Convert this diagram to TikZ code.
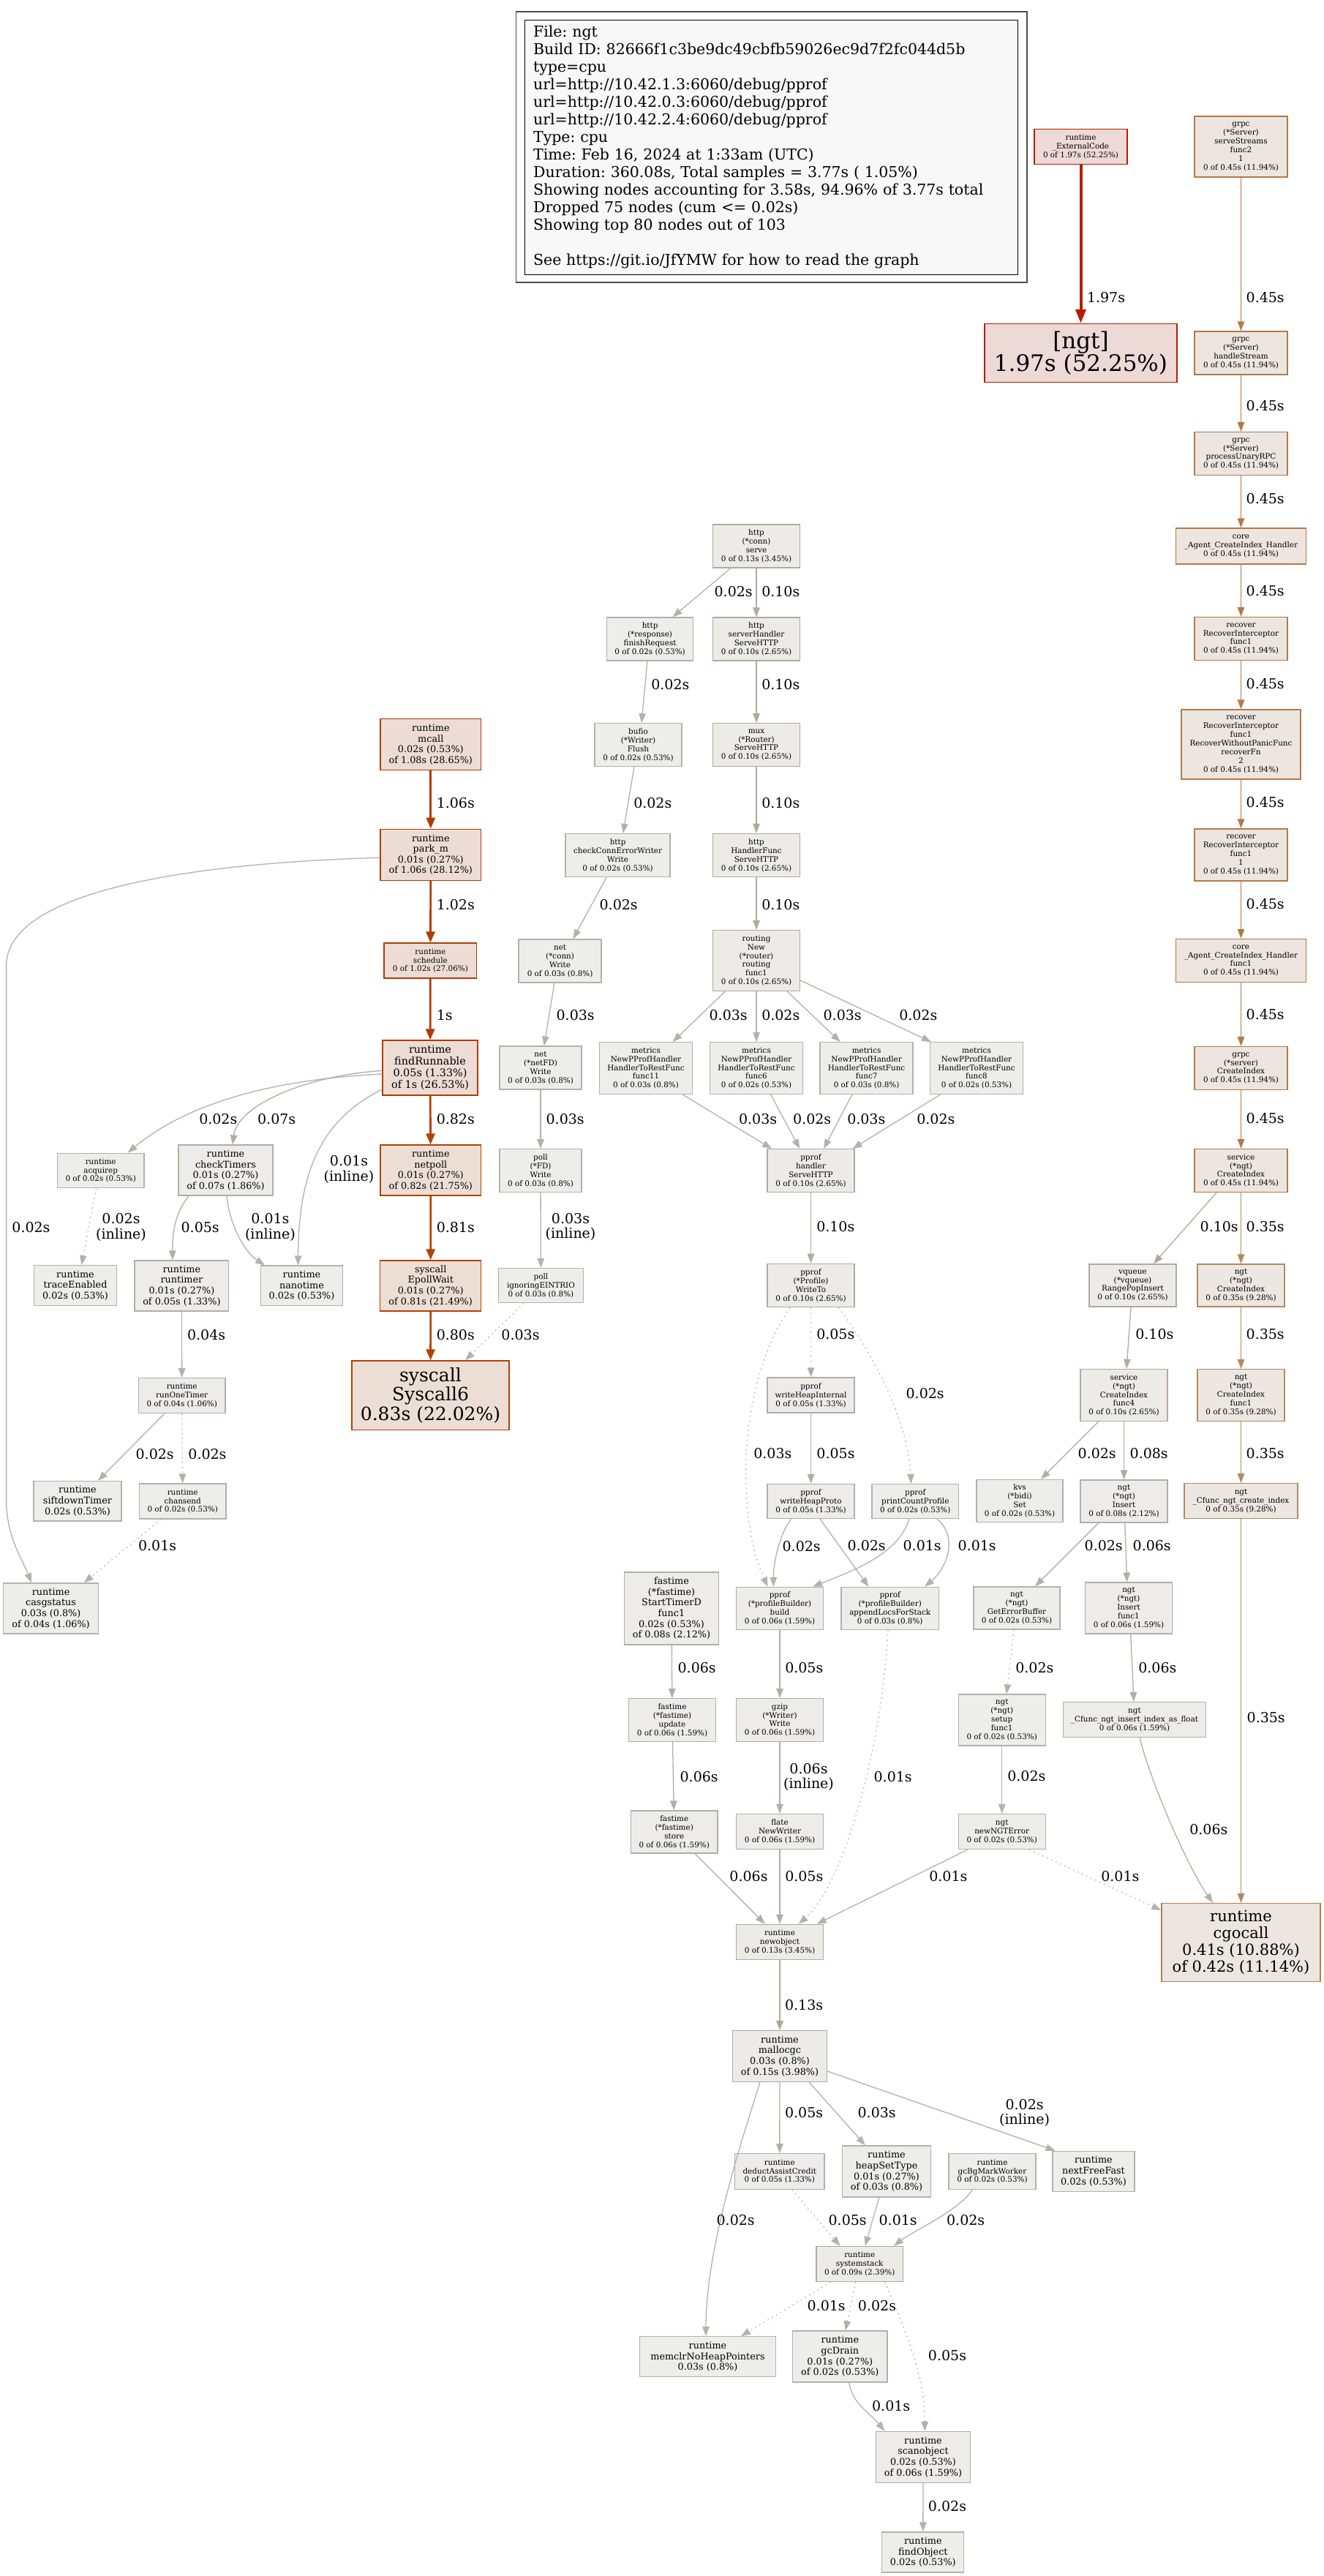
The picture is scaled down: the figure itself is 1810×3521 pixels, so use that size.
\documentclass[tikz,border=0pt]{standalone}
\usepackage{fontspec}
\setmainfont{DejaVu Serif}
\usepackage{tikz}
\usetikzlibrary{arrows.meta, calc, positioning}
\frenchspacing

% node colours (border / fill)
\definecolor{fgRed}{HTML}{B21F00}\definecolor{bgRed}{HTML}{EDD9D5}
\definecolor{fgHot}{HTML}{B23A00}\definecolor{bgHot}{HTML}{EDDCD5}
\definecolor{fgHotB}{HTML}{B24200}\definecolor{bgHotB}{HTML}{EDDED5}
\definecolor{fgGrpc}{HTML}{B27A47}\definecolor{bgGrpc}{HTML}{EDE5DF}
\definecolor{fgNgt}{HTML}{B28A5F}\definecolor{bgNgt}{HTML}{EDE7E2}
\definecolor{fgCgo}{HTML}{B27F4F}\definecolor{bgCgo}{HTML}{EDE6E0}
\definecolor{fgTan}{HTML}{B2AA9A}\definecolor{bgTan}{HTML}{EDEBE8}
\definecolor{fgMid}{HTML}{B2AEA4}\definecolor{bgMid}{HTML}{EDECEA}
\definecolor{fgGrey}{HTML}{B2B1AD}\definecolor{bgGrey}{HTML}{EDEDEC}
\definecolor{legendFill}{HTML}{F8F8F8}
% edge colours
\definecolor{eRed}{HTML}{B21F00}
\definecolor{eHot}{HTML}{B23A00}
\definecolor{eHotB}{HTML}{B24200}
\definecolor{eGrpc}{HTML}{B27A47}
\definecolor{eNgt}{HTML}{B28A5F}
\definecolor{e13}{HTML}{B2A793}
\definecolor{e10}{HTML}{B2AA9A}
\definecolor{e08}{HTML}{B2AC9F}
\definecolor{e06}{HTML}{B2AEA4}
\definecolor{e04}{HTML}{B2B0A9}
\definecolor{e02}{HTML}{B2B1AD}
\definecolor{e01}{HTML}{B2B2B0}

\begin{document}
\begin{tikzpicture}[
    x=1pt, y=-1pt,
    fn/.style={draw, rectangle, align=center, inner sep=2pt, line width=1.3pt},
    wh/.style 2 args={minimum width=#1pt, minimum height=#2pt},
    s8/.style={font=\fontsize{10.4}{11.9}\selectfont},
    s10/.style={font=\fontsize{12.8}{14.6}\selectfont},
    s11/.style={font=\fontsize{14.4}{15.9}\selectfont},
    s16/.style={font=\fontsize{21}{23}\selectfont},
    s19/.style={font=\fontsize{25}{26.8}\selectfont},
    s24/.style={font=\fontsize{31}{31.6}\selectfont},
    red fn/.style={fn, draw=fgRed, fill=bgRed},
    hot fn/.style={fn, draw=fgHot, fill=bgHot},
    hotb fn/.style={fn, draw=fgHotB, fill=bgHotB},
    grpc fn/.style={fn, draw=fgGrpc, fill=bgGrpc},
    ngt fn/.style={fn, draw=fgNgt, fill=bgNgt},
    cgo fn/.style={fn, draw=fgCgo, fill=bgCgo},
    tan fn/.style={fn, draw=fgTan, fill=bgTan},
    mid fn/.style={fn, draw=fgMid, fill=bgMid},
    grey fn/.style={fn, draw=fgGrey, fill=bgGrey},
    call/.style={line width=1.3pt, -{Triangle[length=13pt, width=9.5pt]}},
    hot call/.style={line width=2.7pt, -{Triangle[length=15pt, width=12pt]}},
    red call/.style={line width=4pt, -{Triangle[length=19pt, width=14pt]}},
    resid/.style={dash pattern=on 1.6pt off 5pt},
    lbl/.style={font=\fontsize{19}{20.4}\selectfont, text=black, inner sep=0pt, anchor=west},
    inl/.style={font=\fontsize{19}{20.4}\selectfont, text=black, inner sep=0pt, align=center},
    legend/.style={draw=black, fill=legendFill, line width=1.2pt, align=left,
        text width=651pt, inner xsep=11.5pt, inner ysep=7.5pt, minimum height=348pt,
        font=\fontsize{20.5}{24}\selectfont},
    legend frame/.style={draw=black!70, line width=1.6pt}
]
\useasboundingbox (0,0) rectangle (1810,3521);
\fill[white] (0,0) rectangle (1810,3521);

% --- legend ---
\node[legend, anchor=north west] (legend) at (717,26.7) {File: ngt\\
Build ID: 82666f1c3be9dc49cbfb59026ec9d7f2fc044d5b\\
type=cpu\\
url=http://10.42.1.3:6060/debug/pprof\\
url=http://10.42.0.3:6060/debug/pprof\\
url=http://10.42.2.4:6060/debug/pprof\\
Type: cpu\\
Time: Feb 16, 2024 at 1:33am (UTC)\\
Duration: 360.08s, Total samples = 3.77s ( 1.05\%)\\
Showing nodes accounting for 3.58s, 94.96\% of 3.77s total\\
Dropped 75 nodes (cum <= 0.02s)\\
Showing top 80 nodes out of 103\\[24pt]
See https://git.io/JfYMW for how to read the graph};
\draw[legend frame] ($(legend.north west)+(-11.5,-11)$) rectangle ($(legend.south east)+(11.5,10)$);

% --- external code ---
\node[red fn, s8, wh={127}{48}] (extcode) at (1477.5,200.6) {runtime\\\_ExternalCode\\0 of 1.97s (52.25\%)};
\node[red fn, s24, wh={263}{80}] (ngt) at (1477.5,482.5) {[ngt]\\1.97s (52.25\%)};

% --- grpc / ngt column ---
\node[grpc fn, s8, wh={127}{83}] (serveStreams) at (1696.5,200.4) {grpc\\(*Server)\\serveStreams\\func2\\1\\0 of 0.45s (11.94\%)};
\node[grpc fn, s8, wh={127}{59}] (handleStream) at (1696.5,482.4) {grpc\\(*Server)\\handleStream\\0 of 0.45s (11.94\%)};
\node[grpc fn, s8, wh={127}{59}] (unaryRPC) at (1696.5,620) {grpc\\(*Server)\\processUnaryRPC\\0 of 0.45s (11.94\%)};
\node[grpc fn, s8, wh={178}{49}] (coreHandler) at (1696.5,746.5) {core\\\_Agent\_CreateIndex\_Handler\\0 of 0.45s (11.94\%)};
\node[grpc fn, s8, wh={127}{59}] (recoverA) at (1696.5,873) {recover\\RecoverInterceptor\\func1\\0 of 0.45s (11.94\%)};
\node[grpc fn, s8, wh={163}{95}] (recoverFn) at (1696.5,1017.5) {recover\\RecoverInterceptor\\func1\\RecoverWithoutPanicFunc\\recoverFn\\2\\0 of 0.45s (11.94\%)};
\node[grpc fn, s8, wh={127}{71}] (recoverB) at (1696.5,1168.4) {recover\\RecoverInterceptor\\func1\\1\\0 of 0.45s (11.94\%)};
\node[grpc fn, s8, wh={178}{59}] (coreFunc) at (1696.5,1313) {core\\\_Agent\_CreateIndex\_Handler\\func1\\0 of 0.45s (11.94\%)};
\node[grpc fn, s8, wh={127}{59}] (grpcCreate) at (1696.5,1460) {grpc\\(*server)\\CreateIndex\\0 of 0.45s (11.94\%)};
\node[grpc fn, s8, wh={127}{59}] (svcCreate) at (1696.5,1600) {service\\(*ngt)\\CreateIndex\\0 of 0.45s (11.94\%)};
\node[tan fn, s8, wh={119}{58}] (vqueue) at (1548.5,1757) {vqueue\\(*vqueue)\\RangePopInsert\\0 of 0.10s (2.65\%)};
\node[ngt fn, s8, wh={119}{58}] (ngtCreate) at (1696.5,1757) {ngt\\(*ngt)\\CreateIndex\\0 of 0.35s (9.28\%)};
\node[tan fn, s8, wh={119}{71}] (svcFunc4) at (1536.5,1907) {service\\(*ngt)\\CreateIndex\\func4\\0 of 0.10s (2.65\%)};
\node[ngt fn, s8, wh={119}{71}] (ngtCreateF1) at (1696.5,1907) {ngt\\(*ngt)\\CreateIndex\\func1\\0 of 0.35s (9.28\%)};
\node[grey fn, s8, wh={118}{58}] (kvsSet) at (1394,2051.5) {kvs\\(*bidi)\\Set\\0 of 0.02s (0.53\%)};
\node[mid fn, s8, wh={119}{58}] (ngtInsert) at (1536.5,2052) {ngt\\(*ngt)\\Insert\\0 of 0.08s (2.12\%)};
\node[ngt fn, s8, wh={155}{48}] (cCreate) at (1696.5,2051.6) {ngt\\\_Cfunc\_ngt\_create\_index\\0 of 0.35s (9.28\%)};
\node[grey fn, s8, wh={118}{58}] (errBuf) at (1390,2198) {ngt\\(*ngt)\\GetErrorBuffer\\0 of 0.02s (0.53\%)};
\node[mid fn, s8, wh={119}{70}] (insertF1) at (1543,2198) {ngt\\(*ngt)\\Insert\\func1\\0 of 0.06s (1.59\%)};
\node[grey fn, s8, wh={119}{70}] (setupF1) at (1369.7,2351) {ngt\\(*ngt)\\setup\\func1\\0 of 0.02s (0.53\%)};
\node[mid fn, s8, wh={195}{48}] (cInsert) at (1551,2350.6) {ngt\\\_Cfunc\_ngt\_insert\_index\_as\_float\\0 of 0.06s (1.59\%)};
\node[grey fn, s8, wh={119}{48}] (newErr) at (1369.7,2503.6) {ngt\\newNGTError\\0 of 0.02s (0.53\%)};
\node[cgo fn, s16, wh={217}{107}] (cgocall) at (1696.5,2655) {runtime\\cgocall\\0.41s (10.88\%)\\of 0.42s (11.14\%)};

% --- http / pprof ---
\node[tan fn, s8, wh={119}{59}] (httpServe) at (1034,746.5) {http\\(*conn)\\serve\\0 of 0.13s (3.45\%)};
\node[grey fn, s8, wh={118}{59}] (finishReq) at (888.6,873.5) {http\\(*response)\\finishRequest\\0 of 0.02s (0.53\%)};
\node[tan fn, s8, wh={119}{59}] (srvHandler) at (1034,873.5) {http\\serverHandler\\ServeHTTP\\0 of 0.10s (2.65\%)};
\node[grey fn, s8, wh={119}{58.5}] (bufFlush) at (872.5,1018) {bufio\\(*Writer)\\Flush\\0 of 0.02s (0.53\%)};
\node[tan fn, s8, wh={119}{58.5}] (muxServe) at (1034,1018) {mux\\(*Router)\\ServeHTTP\\0 of 0.10s (2.65\%)};
\node[grey fn, s8, wh={143}{59}] (connErrW) at (844.6,1169) {http\\checkConnErrorWriter\\Write\\0 of 0.02s (0.53\%)};
\node[tan fn, s8, wh={119}{59}] (handlerFn) at (1034,1169) {http\\HandlerFunc\\ServeHTTP\\0 of 0.10s (2.65\%)};
\node[grey fn, s8, wh={113}{59}] (netConnW) at (765.6,1313.5) {net\\(*conn)\\Write\\0 of 0.03s (0.8\%)};
\node[tan fn, s8, wh={119}{82.5}] (routing) at (1034,1313) {routing\\New\\(*router)\\routing\\func1\\0 of 0.10s (2.65\%)};
\node[grey fn, s8, wh={112}{59}] (netFDW) at (739,1459.6) {net\\(*netFD)\\Write\\0 of 0.03s (0.8\%)};
\node[grey fn, s8, wh={112}{58.5}] (pollFDW) at (739,1600) {poll\\(*FD)\\Write\\0 of 0.03s (0.8\%)};
\node[grey fn, s8, wh={116}{47}] (eintr) at (739.4,1757) {poll\\ignoringEINTRIO\\0 of 0.03s (0.8\%)};
\node[grey fn, s8, wh={127}{70.5}] (hFunc11) at (883,1460) {metrics\\NewPProfHandler\\HandlerToRestFunc\\func11\\0 of 0.03s (0.8\%)};
\node[grey fn, s8, wh={127}{70.5}] (hFunc6) at (1034,1460) {metrics\\NewPProfHandler\\HandlerToRestFunc\\func6\\0 of 0.02s (0.53\%)};
\node[grey fn, s8, wh={127}{70.5}] (hFunc7) at (1184.6,1460) {metrics\\NewPProfHandler\\HandlerToRestFunc\\func7\\0 of 0.03s (0.8\%)};
\node[grey fn, s8, wh={127}{70.5}] (hFunc8) at (1335,1460) {metrics\\NewPProfHandler\\HandlerToRestFunc\\func8\\0 of 0.02s (0.53\%)};
\node[tan fn, s8, wh={119}{58.5}] (pprofHandler) at (1108.5,1600) {pprof\\handler\\ServeHTTP\\0 of 0.10s (2.65\%)};
\node[tan fn, s8, wh={119}{59.5}] (writeTo) at (1108.5,1757) {pprof\\(*Profile)\\WriteTo\\0 of 0.10s (2.65\%)};
\node[mid fn, s8, wh={119}{48}] (heapInternal) at (1108.5,1907) {pprof\\writeHeapInternal\\0 of 0.05s (1.33\%)};
\node[mid fn, s8, wh={119}{47}] (heapProto) at (1108.5,2052) {pprof\\writeHeapProto\\0 of 0.05s (1.33\%)};
\node[grey fn, s8, wh={118.6}{47}] (countProfile) at (1251.3,2052) {pprof\\printCountProfile\\0 of 0.02s (0.53\%)};
\node[mid fn, s8, wh={118.6}{58}] (pbBuild) at (1066,2198.4) {pprof\\(*profileBuilder)\\build\\0 of 0.06s (1.59\%)};
\node[grey fn, s8, wh={133.5}{58}] (appendLocs) at (1216.7,2198.4) {pprof\\(*profileBuilder)\\appendLocsForStack\\0 of 0.03s (0.8\%)};
\node[mid fn, s10, wh={129}{99}] (timerD) at (918,2198.4) {fastime\\(*fastime)\\StartTimerD\\func1\\0.02s (0.53\%)\\of 0.08s (2.12\%)};
\node[mid fn, s8, wh={118.6}{58.7}] (ftUpdate) at (919,2351) {fastime\\(*fastime)\\update\\0 of 0.06s (1.59\%)};
\node[mid fn, s8, wh={118.6}{58.7}] (gzipW) at (1066,2351) {gzip\\(*Writer)\\Write\\0 of 0.06s (1.59\%)};
\node[mid fn, s8, wh={118.5}{58}] (ftStore) at (921.7,2504) {fastime\\(*fastime)\\store\\0 of 0.06s (1.59\%)};
\node[mid fn, s8, wh={118.6}{48}] (flateNew) at (1066,2503.4) {flate\\NewWriter\\0 of 0.06s (1.59\%)};
\node[tan fn, s8, wh={118.6}{48}] (newobject) at (1066,2654.4) {runtime\\newobject\\0 of 0.13s (3.45\%)};

% --- allocation ---
\node[tan fn, s10, wh={129}{69.6}] (mallocgc) at (1066,2810.5) {runtime\\mallocgc\\0.03s (0.8\%)\\of 0.15s (3.98\%)};
\node[mid fn, s8, wh={122.5}{48.6}] (assistCredit) at (1065.8,2968) {runtime\\deductAssistCredit\\0 of 0.05s (1.33\%)};
\node[grey fn, s10, wh={121}{70}] (heapSetType) at (1212,2968) {runtime\\heapSetType\\0.01s (0.27\%)\\of 0.03s (0.8\%)};
\node[grey fn, s8, wh={119}{48.6}] (bgMarkWorker) at (1356.5,2968) {runtime\\gcBgMarkWorker\\0 of 0.02s (0.53\%)};
\node[grey fn, s10, wh={112}{55}] (nextFreeFast) at (1495,2967.8) {runtime\\nextFreeFast\\0.02s (0.53\%)};
\node[tan fn, s8, wh={118.4}{48}] (systemstack) at (1175.2,3094.5) {runtime\\systemstack\\0 of 0.09s (2.39\%)};
\node[grey fn, s10, wh={185.7}{55}] (memclr) at (967.5,3221.3) {runtime\\memclrNoHeapPointers\\0.03s (0.8\%)};
\node[grey fn, s10, wh={129.5}{70}] (gcDrain) at (1148.3,3221) {runtime\\gcDrain\\0.01s (0.27\%)\\of 0.02s (0.53\%)};
\node[mid fn, s10, wh={129.5}{70}] (scanobject) at (1262,3358.5) {runtime\\scanobject\\0.02s (0.53\%)\\of 0.06s (1.59\%)};
\node[grey fn, s10, wh={112}{55}] (findObject) at (1261.8,3488.5) {runtime\\findObject\\0.02s (0.53\%)};

% --- scheduler ---
\node[hot fn, s10, wh={137.6}{70}] (mcall) at (588.8,1017.8) {runtime\\mcall\\0.02s (0.53\%)\\of 1.08s (28.65\%)};
\node[hot fn, s10, wh={137.6}{70}] (parkM) at (588.8,1168.3) {runtime\\park\_m\\0.01s (0.27\%)\\of 1.06s (28.12\%)};
\node[hot fn, s8, wh={126.8}{48}] (schedule) at (588.4,1313) {runtime\\schedule\\0 of 1.02s (27.06\%)};
\node[hot fn, s11, wh={130}{75}] (findRunnable) at (588,1459.6) {runtime\\findRunnable\\0.05s (1.33\%)\\of 1s (26.53\%)};
\node[hotb fn, s10, wh={137.6}{69}] (netpoll) at (588.8,1599.6) {runtime\\netpoll\\0.01s (0.27\%)\\of 0.82s (21.75\%)};
\node[hotb fn, s10, wh={137.8}{69}] (epollWait) at (588.7,1757.4) {syscall\\EpollWait\\0.01s (0.27\%)\\of 0.81s (21.49\%)};
\node[hotb fn, s19, wh={215}{94.6}] (syscall6) at (588.5,1907.3) {syscall\\Syscall6\\0.83s (22.02\%)};
\node[grey fn, s8, wh={118.6}{47.6}] (acquirep) at (137.7,1600) {runtime\\acquirep\\0 of 0.02s (0.53\%)};
\node[mid fn, s10, wh={129}{69}] (checkTimers) at (308.5,1599.6) {runtime\\checkTimers\\0.01s (0.27\%)\\of 0.07s (1.86\%)};
\node[grey fn, s10, wh={113.3}{54.7}] (traceEnabled) at (103,1757) {runtime\\traceEnabled\\0.02s (0.53\%)};
\node[mid fn, s10, wh={128.8}{69}] (runtimer) at (248.4,1757.4) {runtime\\runtimer\\0.01s (0.27\%)\\of 0.05s (1.33\%)};
\node[grey fn, s10, wh={112.4}{54.7}] (nanotime) at (412.5,1757.4) {runtime\\nanotime\\0.02s (0.53\%)};
\node[mid fn, s8, wh={118.6}{48}] (runOneTimer) at (248.7,1907.6) {runtime\\runOneTimer\\0 of 0.04s (1.06\%)};
\node[grey fn, s10, wh={120}{54.6}] (siftdown) at (106,2051.8) {runtime\\siftdownTimer\\0.02s (0.53\%)};
\node[grey fn, s8, wh={118.7}{48}] (chansend) at (249.7,2052) {runtime\\chansend\\0 of 0.02s (0.53\%)};
\node[grey fn, s10, wh={129.6}{69}] (casgstatus) at (69.6,2198.4) {runtime\\casgstatus\\0.03s (0.8\%)\\of 0.04s (1.06\%)};

% --- edges: external code, grpc chain ---
\draw[red call, eRed] (extcode) -- (ngt) node[lbl] at (1484,407) {1.97s};
\draw[call, eGrpc] (serveStreams) -- (handleStream) node[lbl] at (1703,407) {0.45s};
\draw[call, eGrpc] (handleStream) -- (unaryRPC) node[lbl] at (1703,555) {0.45s};
\draw[call, eGrpc] (unaryRPC) -- (coreHandler) node[lbl] at (1703,682) {0.45s};
\draw[call, eGrpc] (coreHandler) -- (recoverA) node[lbl] at (1703,808) {0.45s};
\draw[call, eGrpc] (recoverA) -- (recoverFn) node[lbl] at (1703,935) {0.45s};
\draw[call, eGrpc] (recoverFn) -- (recoverB) node[lbl] at (1703,1097) {0.45s};
\draw[call, eGrpc] (recoverB) -- (coreFunc) node[lbl] at (1703,1236) {0.45s};
\draw[call, eGrpc] (coreFunc) -- (grpcCreate) node[lbl] at (1703,1387) {0.45s};
\draw[call, eGrpc] (grpcCreate) -- (svcCreate) node[lbl] at (1703,1529) {0.45s};
\draw[call, e10] ([xshift=-33.5pt]svcCreate.south) -- ([xshift=28.5pt]vqueue.north) node[lbl] at (1640,1676.6) {0.10s};
\draw[call, eNgt] (svcCreate) -- (ngtCreate) node[lbl] at (1703,1676.6) {0.35s};
\draw[call, e10] ([xshift=-2.5pt]vqueue.south) -- ([xshift=3.5pt]svcFunc4.north) node[lbl] at (1551.7,1824) {0.10s};
\draw[call, eNgt] (ngtCreate) -- (ngtCreateF1) node[lbl] at (1703,1824) {0.35s};
\draw[call, e02] ([xshift=-34.8pt]svcFunc4.south) -- ([xshift=29pt]kvsSet.north) node[lbl] at (1473,1987) {0.02s};
\draw[call, e08] (svcFunc4) -- (ngtInsert) node[lbl] at (1544,1987) {0.08s};
\draw[call, eNgt] (ngtCreateF1) -- (cCreate) node[lbl] at (1703,1987) {0.35s};
\draw[call, e02] ([xshift=-34.8pt]ngtInsert.south) -- ([xshift=25pt]errBuf.north) node[lbl] at (1482,2113) {0.02s};
\draw[call, e06] ([xshift=1.2pt]ngtInsert.south) -- ([xshift=-2.3pt]insertF1.north) node[lbl] at (1548,2113) {0.06s};
\draw[call, eNgt] (cCreate) -- (cgocall) node[lbl] at (1704,2348) {0.35s};
\draw[call, e02, resid] ([xshift=-4pt]errBuf.south) -- ([xshift=6.3pt]setupF1.north) node[lbl] at (1387.7,2279.5) {0.02s};
\draw[call, e06] ([xshift=2.7pt]insertF1.south) -- ([xshift=-1pt]cInsert.north) node[lbl] at (1555.7,2279.5) {0.06s};
\draw[call, e02] (setupF1) -- (newErr) node[lbl] at (1376.7,2428) {0.02s};
\draw[call, e06] ([xshift=7pt]cInsert.south) .. controls +(15,60) and +(-35,-50) .. ([xshift=-38.5pt]cgocall.north) node[lbl] at (1625.7,2501) {0.06s};
\draw[call, e01, resid] ([xshift=37.3pt]newErr.south) -- ([shift={(0,-44)}]cgocall.west) node[lbl] at (1504.7,2564.6) {0.01s};
\draw[call, e01] ([xshift=-47.2pt]newErr.south) -- ([xshift=50.6pt]newobject.north) node[lbl] at (1269.7,2564.8) {0.01s};

% --- edges: http / pprof ---
\draw[call, e02] ([xshift=-35.3pt]httpServe.south) -- ([xshift=31pt]finishReq.north) node[lbl] at (976,808.7) {0.02s};
\draw[call, e10] (httpServe) -- (srvHandler) node[lbl] at (1040.6,808.7) {0.10s};
\draw[call, e02] ([xshift=-3.6pt]finishReq.south) -- ([xshift=4.5pt]bufFlush.north) node[lbl] at (889.7,935.7) {0.02s};
\draw[call, e10] (srvHandler) -- (muxServe) node[lbl] at (1040.6,935.7) {0.10s};
\draw[call, e02] ([xshift=-5.5pt]bufFlush.south) -- ([xshift=7.2pt]connErrW.north) node[lbl] at (865.6,1097.5) {0.02s};
\draw[call, e10] (muxServe) -- (handlerFn) node[lbl] at (1040.6,1097.5) {0.10s};
\draw[call, e02] ([xshift=-15.6pt]connErrW.south) -- ([xshift=17.9pt]netConnW.north) node[lbl] at (819,1236.5) {0.02s};
\draw[call, e10] (handlerFn) -- (routing) node[lbl] at (1040.6,1236.5) {0.10s};
\draw[call, e02] ([xshift=-7.6pt]netConnW.south) -- ([xshift=4.7pt]netFDW.north) node[lbl] at (760,1387.5) {0.03s};
\draw[call, e02] (netFDW) -- (pollFDW) node[lbl] at (746,1529.5) {0.03s};
\draw[call, e02] (pollFDW) -- (eintr) node[inl] at (780,1677) {0.03s\\(inline)};
\draw[call, e02, resid] ([xshift=-23.4pt]eintr.south) -- ([xshift=47.5pt]syscall6.north) node[lbl] at (684.8,1824.5) {0.03s};
\draw[call, e02] ([xshift=-42.5pt]routing.south) -- ([xshift=36.6pt]hFunc11.north) node[lbl] at (969,1387.5) {0.03s};
\draw[call, e02] (routing) -- (hFunc6) node[lbl] at (1040.6,1387.5) {0.02s};
\draw[call, e02] ([xshift=42pt]routing.south) -- ([xshift=-35.9pt]hFunc7.north) node[lbl] at (1125,1387.5) {0.03s};
\draw[call, e02] ([shift={(0,27)}]routing.east) -- ([xshift=-62pt]hFunc8.north) node[lbl] at (1228.6,1387.5) {0.02s};
\draw[call, e02] ([xshift=50pt]hFunc11.south) -- ([xshift=-53.5pt]pprofHandler.north) node[lbl] at (1009.4,1529.5) {0.03s};
\draw[call, e02] ([xshift=19.6pt]hFunc6.south) -- ([xshift=-15.2pt]pprofHandler.north) node[lbl] at (1083.5,1529.5) {0.02s};
\draw[call, e02] ([xshift=-19.6pt]hFunc7.south) -- ([xshift=17.5pt]pprofHandler.north) node[lbl] at (1157.6,1529.5) {0.03s};
\draw[call, e02] ([xshift=-49.3pt]hFunc8.south) -- ([xshift=57pt]pprofHandler.north) node[lbl] at (1252.7,1529.5) {0.02s};
\draw[call, e10] (pprofHandler) -- (writeTo) node[lbl] at (1115.6,1677) {0.10s};
\draw[call, e06, resid] (writeTo) -- (heapInternal) node[lbl] at (1115.6,1823.7) {0.05s};
\draw[call, e02, resid] ([xshift=-28.5pt]writeTo.south) .. controls +(-70,100) and +(-45,-100) .. ([xshift=-16.4pt]pbBuild.north) node[lbl] at (1029.7,1987) {0.03s};
\draw[call, e02, resid] ([xshift=37.9pt]writeTo.south) .. controls +(45,60) and +(-5,-90) .. ([xshift=-5.7pt]countProfile.north) node[lbl] at (1238,1904.7) {0.02s};
\draw[call, e06] (heapInternal) -- (heapProto) node[lbl] at (1115.8,1987) {0.05s};
\draw[call, e02] ([xshift=-27.1pt]heapProto.south) .. controls +(-15,20) and +(0,-35) .. ([xshift=-8.7pt]pbBuild.north) node[lbl] at (1069,2113.3) {0.02s};
\draw[call, e02] ([xshift=12.5pt]heapProto.south) -- ([xshift=-29.3pt]appendLocs.north) node[lbl] at (1158,2113) {0.02s};
\draw[call, e01] ([xshift=-8.3pt]countProfile.south) .. controls +(-15,50) and +(50,-20) .. ([xshift=44.9pt]pbBuild.north) node[lbl] at (1234,2113) {0.01s};
\draw[call, e01] ([xshift=29.7pt]countProfile.south) .. controls +(30,25) and +(30,-25) .. ([xshift=47.3pt]appendLocs.north) node[lbl] at (1309,2113) {0.01s};
\draw[call, e06] (pbBuild) -- (gzipW) node[lbl] at (1072.6,2279.7) {0.05s};
\draw[call, e06] (gzipW) -- (flateNew) node[inl] at (1105.5,2429) {0.06s\\(inline)};
\draw[call, e06] (flateNew) -- (newobject) node[lbl] at (1072.6,2564.8) {0.05s};
\draw[call, e01, resid] ([xshift=-2.7pt]appendLocs.south) .. controls +(-9,173) and +(58,-50) .. ([xshift=25.7pt]newobject.north) node[lbl] at (1194,2429) {0.01s};
\draw[call, e06] (timerD) -- (ftUpdate) node[lbl] at (926,2279.7) {0.06s};
\draw[call, e06] (ftUpdate) -- (ftStore) node[lbl] at (929,2429) {0.06s};
\draw[call, e06] ([xshift=28.3pt]ftStore.south) -- ([xshift=-20.2pt]newobject.north) node[lbl] at (996.8,2564.8) {0.06s};

% --- edges: allocation ---
\draw[call, e13] (newobject) -- (mallocgc) node[lbl] at (1072.4,2740.7) {0.13s};
\draw[call, e06] (mallocgc) -- (assistCredit) node[lbl] at (1072.4,2887.7) {0.05s};
\draw[call, e02] ([xshift=40pt]mallocgc.south) -- ([xshift=-29pt]heapSetType.north) node[lbl] at (1172,2887.7) {0.03s};
\draw[call, e02] ([shift={(0,20.5)}]mallocgc.east) -- ([xshift=-52.3pt]nextFreeFast.north) node[inl] at (1400.6,2888) {0.02s\\(inline)};
\draw[call, e02] ([xshift=-27pt]mallocgc.south) .. controls +(-25,80) and +(0,-120) .. ([xshift=-2.5pt]memclr.north) node[lbl] at (979,3035) {0.02s};
\draw[call, e06, resid] ([xshift=17pt]assistCredit.south) -- ([xshift=-26.8pt]systemstack.north) node[lbl] at (1132,3035) {0.05s};
\draw[call, e01] ([xshift=-10.2pt]heapSetType.south) -- ([xshift=7.4pt]systemstack.north) node[lbl] at (1201,3035) {0.01s};
\draw[call, e02] ([xshift=-27pt]bgMarkWorker.south) .. controls +(-20,30) and +(25,-20) .. ([xshift=46.8pt]systemstack.north) node[lbl] at (1293.5,3035) {0.02s};
\draw[call, e01, resid] ([xshift=-39.5pt]systemstack.south) -- ([xshift=45.5pt]memclr.north) node[lbl] at (1103,3151.7) {0.01s};
\draw[call, e02, resid] ([xshift=-5.6pt]systemstack.south) -- ([xshift=7.5pt]gcDrain.north) node[lbl] at (1172.3,3151.7) {0.02s};
\draw[call, e06, resid] ([xshift=34.6pt]systemstack.south) .. controls +(25,60) and +(0,-80) .. ([xshift=2.3pt]scanobject.north) node[lbl] at (1268.3,3220) {0.05s};
\draw[call, e01] ([xshift=12.4pt]gcDrain.south) .. controls +(5,30) and +(-20,-25) .. ([xshift=-52.6pt]scanobject.north) node[lbl] at (1191.5,3288.7) {0.01s};
\draw[call, e02] (scanobject) -- (findObject) node[lbl] at (1268.3,3425.7) {0.02s};

% --- edges: scheduler ---
\draw[hot call, eHot] (mcall) -- (parkM) node[lbl] at (595.4,1097.3) {1.06s};
\draw[hot call, eHot] (parkM) -- (schedule) node[lbl] at (595.4,1236.6) {1.02s};
\draw[hot call, eHot] (schedule) -- (findRunnable) node[lbl] at (595.4,1387.5) {1s};
\draw[hot call, eHotB] (findRunnable) -- (netpoll) node[lbl] at (595.4,1529.5) {0.82s};
\draw[hot call, eHotB] (netpoll) -- (epollWait) node[lbl] at (595.4,1677.6) {0.81s};
\draw[hot call, eHotB] (epollWait) -- (syscall6) node[lbl] at (595.4,1824.5) {0.80s};
\draw[call, e02] ([shift={(0,4)}]parkM.west) .. controls (250,1180) and (8.6,1220) .. (8.6,1320) -- (8.6,2050) .. controls (8.6,2100) and (30,2130) .. ([xshift=-26.6pt]casgstatus.north) node[lbl] at (15.8,1677.6) {0.02s};
\draw[call, e02] ([shift={(0,8.4)}]findRunnable.west) .. controls (380,1475) and (260,1505) .. ([xshift=36.9pt]acquirep.north) node[lbl] at (271.6,1529.5) {0.02s};
\draw[call, e08] ([shift={(0,3.8)}]findRunnable.west) .. controls (420,1470) and (325,1510) .. ([xshift=9.5pt]checkTimers.north) node[lbl] at (351.5,1529.5) {0.07s};
\draw[call, e01] ([shift={(0,29.4)}]findRunnable.west) .. controls (440,1530) and (408,1600) .. ([xshift=-5pt]nanotime.north) node[inl] at (477,1598.5) {0.01s\\(inline)};
\draw[call, e02, resid] ([xshift=-6.2pt]acquirep.south) -- ([xshift=8.4pt]traceEnabled.north) node[inl] at (165.5,1677.5) {0.02s\\(inline)};
\draw[call, e06] ([xshift=-50.5pt]checkTimers.south) .. controls +(-20,25) and +(0,-35) .. ([xshift=-12.6pt]runtimer.north) node[lbl] at (247,1677.6) {0.05s};
\draw[call, e01] ([xshift=1.5pt]checkTimers.south) .. controls +(3,35) and +(-30,-20) .. ([xshift=-50.5pt]nanotime.north) node[inl] at (369.4,1677.5) {0.01s\\(inline)};
\draw[call, e04] (runtimer) -- (runOneTimer) node[lbl] at (255.4,1824.5) {0.04s};
\draw[call, e02] ([xshift=-23.9pt]runOneTimer.south) -- ([xshift=28pt]siftdown.north) node[lbl] at (185,1987.8) {0.02s};
\draw[call, e02, resid] (runOneTimer) -- (chansend) node[lbl] at (256.8,1987.8) {0.02s};
\draw[call, e01, resid] ([xshift=-29.7pt]chansend.south) -- ([xshift=45.2pt]casgstatus.north) node[lbl] at (188.4,2113) {0.01s};

\end{tikzpicture}
\end{document}
